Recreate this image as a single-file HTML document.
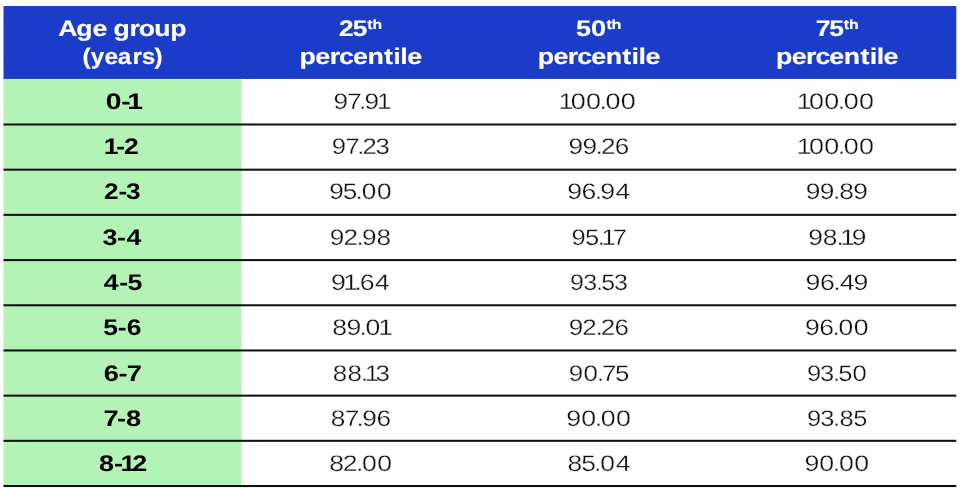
<!DOCTYPE html>
<html><head><meta charset="utf-8"><title>Percentile table</title>
<style>
html,body{margin:0;padding:0;background:#fff;}
body{width:960px;height:490px;overflow:hidden;}
svg{display:block;will-change:transform;}
text{font-family:"Liberation Sans",Arial,sans-serif;text-rendering:geometricPrecision;}
.h{fill:#fff;font-weight:700;font-size:23.0px;stroke:#fff;stroke-width:0.15px;}
.b{fill:#000;font-weight:700;font-size:23.0px;}
.n{fill:#111;font-weight:400;font-size:23.0px;stroke:#fff;stroke-width:0.3px;}
.s{font-size:13.8px;}
</style></head><body>
<svg width="960" height="490" viewBox="0 0 960 490">
<rect x="0" y="0" width="960" height="490" fill="#fff"/>
<rect x="3.5" y="6.0" width="952.80" height="72.70" fill="#1a3cc8"/>
<rect x="3.5" y="78.7" width="238.00" height="407.32" fill="#b4f3b6"/>
<rect x="3.5" y="77.90" width="952.80" height="0.8" fill="#1632a8"/>
<rect x="3.5" y="123.47" width="952.80" height="2.05" fill="#111"/>
<rect x="3.5" y="168.66" width="952.80" height="2.05" fill="#111"/>
<rect x="3.5" y="213.85" width="952.80" height="2.05" fill="#111"/>
<rect x="3.5" y="259.05" width="952.80" height="2.05" fill="#111"/>
<rect x="3.5" y="304.24" width="952.80" height="2.05" fill="#111"/>
<rect x="3.5" y="349.43" width="952.80" height="2.05" fill="#111"/>
<rect x="3.5" y="394.62" width="952.80" height="2.05" fill="#111"/>
<rect x="3.5" y="439.81" width="952.80" height="2.05" fill="#111"/>
<rect x="3.5" y="485.00" width="952.80" height="2.05" fill="#111"/>
<text class="h" transform="translate(0,35.90) scale(1.1553,0.98)" x="50.41 66.06 79.98 92.72 98.20 111.99 120.19 133.55 147.37" y="0">Age group</text>
<text class="h" transform="translate(0,63.60) scale(1.0579,0.98)" x="78.09 85.72 98.75 111.30 125.29 133.92 146.01" y="0">(years)</text>
<text class="h" transform="translate(0,35.90) scale(1.1400,0.98)" x="297.48 309.42" y="0">25<tspan class="s" x="322.17 326.68" dy="-7.14">th</tspan></text>
<text class="h" transform="translate(0,63.60) scale(1.1633,0.98)" x="257.50 271.01 283.37 291.53 303.39 315.88 330.13 338.13 344.08 350.03" y="0">percentile</text>
<text class="h" transform="translate(0,35.90) scale(1.1768,0.98)" x="489.55 502.20" y="0">50<tspan class="s" x="515.29 519.59" dy="-7.14">th</tspan></text>
<text class="h" transform="translate(0,63.60) scale(1.1633,0.98)" x="462.26 475.78 488.14 496.30 508.16 520.65 534.90 542.90 548.85 554.80" y="0">percentile</text>
<text class="h" transform="translate(0,35.90) scale(1.1509,0.98)" x="708.84 720.49" y="0">75<tspan class="s" x="733.16 737.60" dy="-7.14">th</tspan></text>
<text class="h" transform="translate(0,63.60) scale(1.1633,0.98)" x="667.03 680.55 692.91 701.06 712.93 725.41 739.67 747.67 753.62 759.57" y="0">percentile</text>
<text class="b" transform="translate(0,108.90) scale(1.2294,0.98)" x="86.01 98.59 103.59" y="0">0-1</text>
<text class="n" transform="translate(0,108.90) scale(1.1370,0.98)" x="293.27 305.32 315.67 320.56 331.47" y="0">97.91</text>
<text class="n" transform="translate(0,108.90) scale(1.1688,0.98)" x="477.78 488.35 501.37 512.95 518.13 531.17" y="0">100.00</text>
<text class="n" transform="translate(0,108.90) scale(1.1688,0.98)" x="681.58 692.15 705.17 716.75 721.93 734.97" y="0">100.00</text>
<text class="b" transform="translate(0,154.17) scale(1.1543,0.98)" x="89.88 100.82 107.44" y="0">1-2</text>
<text class="n" transform="translate(0,154.17) scale(1.1146,0.98)" x="297.67 309.96 320.45 325.31 336.84" y="0">97.23</text>
<text class="n" transform="translate(0,154.17) scale(1.1362,0.98)" x="500.41 512.73 524.22 528.92 541.12" y="0">99.26</text>
<text class="n" transform="translate(0,154.17) scale(1.1688,0.98)" x="681.58 692.15 705.17 716.75 721.93 734.97" y="0">100.00</text>
<text class="b" transform="translate(0,199.44) scale(1.1393,0.98)" x="91.38 103.94 110.59" y="0">2-3</text>
<text class="n" transform="translate(0,199.44) scale(1.1363,0.98)" x="289.75 301.70 312.92 318.34 331.73" y="0">95.00</text>
<text class="n" transform="translate(0,199.44) scale(1.1580,0.98)" x="489.79 502.21 513.63 518.38 531.53" y="0">96.94</text>
<text class="n" transform="translate(0,199.44) scale(1.1438,0.98)" x="704.54 716.77 728.21 733.75 746.09" y="0">99.89</text>
<text class="b" transform="translate(0,244.71) scale(1.1643,0.98)" x="88.03 100.48 108.69" y="0">3-4</text>
<text class="n" transform="translate(0,244.71) scale(1.1399,0.98)" x="289.36 301.24 312.70 317.58 330.36" y="0">92.98</text>
<text class="n" transform="translate(0,244.71) scale(1.1117,0.98)" x="514.00 526.21 537.61 541.01 551.22" y="0">95.17</text>
<text class="n" transform="translate(0,244.71) scale(1.1451,0.98)" x="705.84 718.56 730.50 733.70 743.74" y="0">98.19</text>
<text class="b" transform="translate(0,289.98) scale(1.1638,0.98)" x="89.26 102.54 109.47" y="0">4-5</text>
<text class="n" transform="translate(0,289.98) scale(1.1636,0.98)" x="284.41 295.06 304.42 309.25 322.00" y="0">91.64</text>
<text class="n" transform="translate(0,289.98) scale(1.0844,0.98)" x="525.69 537.77 549.55 554.46 566.12" y="0">93.53</text>
<text class="n" transform="translate(0,289.98) scale(1.1580,0.98)" x="695.68 708.10 719.53 725.08 737.00" y="0">96.49</text>
<text class="b" transform="translate(0,335.25) scale(1.1517,0.98)" x="89.60 102.16 110.06" y="0">5-6</text>
<text class="n" transform="translate(0,335.25) scale(1.1549,0.98)" x="287.72 299.94 311.30 316.57 327.64" y="0">89.01</text>
<text class="n" transform="translate(0,335.25) scale(1.1322,0.98)" x="502.41 514.37 525.89 530.63 542.85" y="0">92.26</text>
<text class="n" transform="translate(0,335.25) scale(1.1551,0.98)" x="696.83 709.28 720.72 726.01 739.18" y="0">96.00</text>
<text class="b" transform="translate(0,380.52) scale(1.1854,0.98)" x="87.50 99.92 106.84" y="0">6-7</text>
<text class="n" transform="translate(0,380.52) scale(1.1255,0.98)" x="295.62 308.66 320.74 324.06 333.69" y="0">88.13</text>
<text class="n" transform="translate(0,380.52) scale(1.1266,0.98)" x="504.79 517.97 529.86 534.46 545.83" y="0">90.75</text>
<text class="n" transform="translate(0,380.52) scale(1.1105,0.98)" x="726.65 738.45 750.03 754.74 767.61" y="0">93.50</text>
<text class="b" transform="translate(0,425.79) scale(1.1850,0.98)" x="87.34 98.77 106.33" y="0">7-8</text>
<text class="n" transform="translate(0,425.79) scale(1.1421,0.98)" x="289.70 301.94 312.26 317.12 329.73" y="0">87.96</text>
<text class="n" transform="translate(0,425.79) scale(1.1619,0.98)" x="487.39 500.16 511.79 517.03 530.12" y="0">90.00</text>
<text class="n" transform="translate(0,425.79) scale(1.1066,0.98)" x="729.36 741.20 752.80 758.64 771.00" y="0">93.85</text>
<text class="b" transform="translate(0,471.06) scale(1.1722,0.98)" x="84.46 97.31 102.71 112.75" y="0">8-12</text>
<text class="n" transform="translate(0,471.06) scale(1.1549,0.98)" x="285.07 296.89 308.24 313.53 326.72" y="0">82.00</text>
<text class="n" transform="translate(0,471.06) scale(1.1502,0.98)" x="493.46 505.36 516.48 521.79 535.35" y="0">85.04</text>
<text class="n" transform="translate(0,471.06) scale(1.1619,0.98)" x="692.39 705.17 716.80 722.03 735.13" y="0">90.00</text>
</svg></body></html>
